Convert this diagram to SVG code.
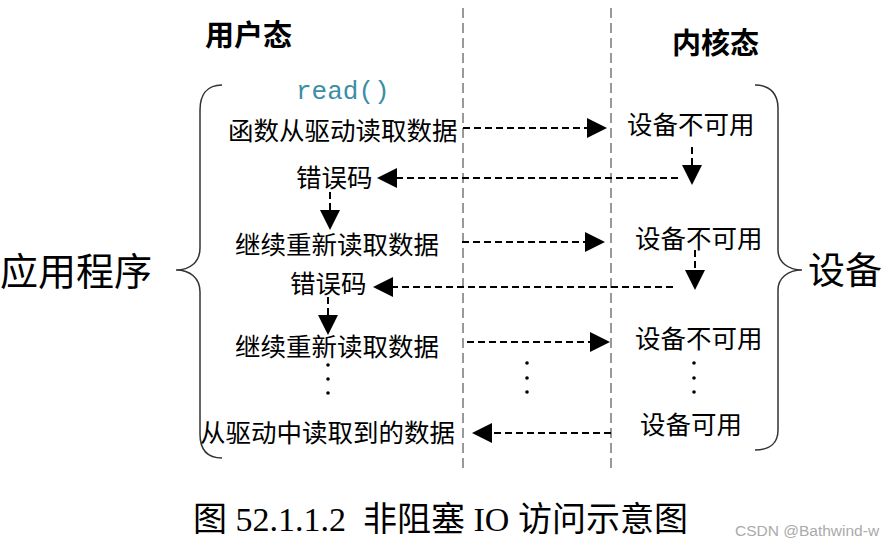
<svg xmlns="http://www.w3.org/2000/svg" width="893" height="547" viewBox="0 0 893 547">
<style>
.t{font-family:"Liberation Serif","Noto Sans CJK SC",serif;font-size:25.5px;fill:#000}
.h{font-family:"Noto Sans CJK SC",sans-serif;font-size:29px;font-weight:bold;fill:#000}
.big{font-family:"Liberation Serif","Noto Sans CJK SC",serif;fill:#000}
.c{stroke:#000;stroke-width:2;stroke-dasharray:7 4;fill:none}
.g{stroke:#999;stroke-width:2;stroke-dasharray:10 5;fill:none}
.br{stroke:#333;stroke-width:1.5;fill:none}
.ah{fill:#000}
</style>
<rect width="893" height="547" fill="#fff"/>
<g id="lanes">
<line class="g" x1="463" y1="8" x2="463" y2="470"/>
<line class="g" x1="611" y1="8" x2="611" y2="470"/>
</g>
<g id="headers">
<text class="h" x="205" y="46">用户态</text>
<text class="h" x="672" y="54">内核态</text>
</g>
<g id="braces">
<path class="br" d="M222,85 C206,85 200,96 200,110 L200,248 C200,262 190,270 176,270 C190,270 200,278 200,292 L200,434 C200,448 206,458 222,458"/>
<path class="br" d="M755,85 C771,85 778,95 778,108 L778,250 C778,262 788,270 802,270 C788,270 778,278 778,290 L778,430 C778,442 771,450 755,450"/>
</g>
<g id="app"><text class="big" x="0" y="284.5" font-size="38">应用程序</text></g>
<g id="device"><text class="big" x="808" y="284" font-size="37">设备</text></g>
<g id="read"><text x="296" y="99" font-family="Liberation Mono, monospace" font-size="26" fill="#3a8ea5">read()</text></g>
<g id="u1"><text class="t" x="228" y="140">函数从驱动读取数据</text></g>
<g id="k1"><text class="t" x="627" y="133.5">设备不可用</text></g>
<g id="u2"><text class="t" x="296" y="186.5">错误码</text></g>
<g id="u3"><text class="t" x="235" y="253.5">继续重新读取数据</text></g>
<g id="k2"><text class="t" x="635" y="247.5">设备不可用</text></g>
<g id="u4"><text class="t" x="290" y="292.5">错误码</text></g>
<g id="u5"><text class="t" x="235" y="355.5">继续重新读取数据</text></g>
<g id="k3"><text class="t" x="635" y="347.5">设备不可用</text></g>
<g id="u6"><text class="t" x="200" y="442">从驱动中读取到的数据</text></g>
<g id="k4"><text class="t" x="640" y="433.5">设备可用</text></g>
<g id="dots">
<circle cx="328" cy="365" r="1.8"/><circle cx="328" cy="379" r="1.8"/><circle cx="328" cy="393" r="1.8"/>
<circle cx="527" cy="363" r="1.8"/><circle cx="527" cy="378" r="1.8"/><circle cx="527" cy="392" r="1.8"/>
<circle cx="694" cy="363" r="1.8"/><circle cx="694" cy="378" r="1.8"/><circle cx="694" cy="392" r="1.8"/>
</g>
<g id="connectors">
<line class="c" x1="463" y1="128" x2="588" y2="128"/><polygon class="ah" points="607,128 587,118 587,138"/>
<line class="c" x1="692" y1="147" x2="692" y2="166"/><polygon class="ah" points="692,185 682,165 702,165"/>
<line class="c" x1="678" y1="178" x2="396" y2="178"/><polygon class="ah" points="377,178 397,168 397,188"/>
<line class="c" x1="330" y1="192" x2="330" y2="211"/><polygon class="ah" points="330,230 320,210 340,210"/>
<line class="c" x1="462" y1="242" x2="586" y2="242"/><polygon class="ah" points="605,242 585,232 585,252"/>
<line class="c" x1="695" y1="250" x2="695" y2="271"/><polygon class="ah" points="695,290 685,270 705,270"/>
<line class="c" x1="673" y1="287" x2="392" y2="287"/><polygon class="ah" points="373,287 393,277 393,297"/>
<line class="c" x1="328" y1="297" x2="328" y2="316"/><polygon class="ah" points="328,335 318,315 338,315"/>
<line class="c" x1="467" y1="342" x2="591" y2="342"/><polygon class="ah" points="610,342 590,332 590,352"/>
<line class="c" x1="611" y1="433" x2="491" y2="433"/><polygon class="ah" points="472,433 492,423 492,443"/>
</g>
<g id="caption"><text class="big" x="193" y="531" font-size="34" xml:space="preserve">图 52.1.1.2  非阻塞 IO 访问示意图</text></g>
<g id="watermark"><text x="735" y="536" font-family="Liberation Sans, sans-serif" font-size="15.5" fill="#aaa">CSDN @Bathwind-w</text></g>
</svg>
